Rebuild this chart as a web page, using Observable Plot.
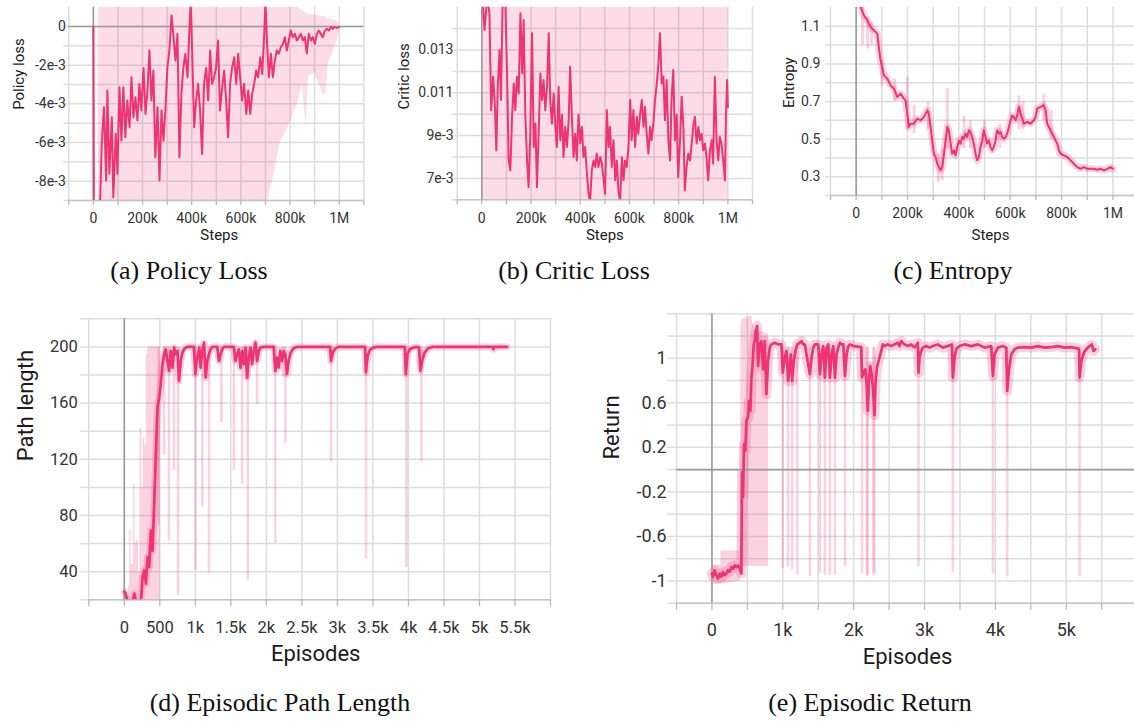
<!DOCTYPE html>
<html><head><meta charset="utf-8">
<script src="https://cdn.jsdelivr.net/npm/d3@7"></script>
<script src="https://cdn.jsdelivr.net/npm/@observablehq/plot@0.6"></script>
<style>
html,body{margin:0;padding:0;background:#fff;overflow:hidden;}
#root{position:relative;width:1134px;height:722px;overflow:hidden;background:#fff;}
.panel{position:absolute;}
.cap{position:absolute;width:400px;text-align:center;font-family:"Liberation Serif","Times New Roman",serif;font-size:26px;line-height:26px;color:#111;white-space:nowrap;}
</style></head><body><div id="root"></div>
<script>
// ---------- (a) Policy loss (steps in thousands, loss in 1e-3) ----------
const aStepsK = [0,2,7,20,27,34,43,52,57,65,75,81,91,98,106,114,122,130,138,147,155,163,171,179,187,195,204,212,220,228,236,244,252,261,269,277,285,293,301,309,318,326,334,342,350,358,366,374,383,391,396,402,410,418,426,434,442,450,459,467,475,483,491,499,507,515,524,532,540,548,556,564,573,581,589,597,605,613,622,630,638,646,654,662,670,679,687,695,700,706,714,722,730,738,746,754,763,771,779,787,795,803,811,820,828,836,844,852,860,868,876,885,893,901,909,917,925,933,942,950,958,966,974,982,990,1000];
const aLossMilli = [0,-9.5,-9.4,-9.3,-9.2,-6.07,-4.17,-7.97,-3.31,-7.62,-4.69,-8.83,-5.55,-7.62,-3.14,-5.9,-3.14,-5.72,-3.83,-5.21,-2.62,-4.69,-3.66,-4.86,-2.97,-4.34,-2.14,-4.52,-3.31,-1.24,-3.83,-2.28,-6.76,-4.17,-7.97,-4.34,-5.9,-4.34,-2.14,-1.24,0.57,-0.55,-1.76,-0.38,-6.76,-3.48,-2.14,-1.41,-2.62,-0.03,1.3,-1.41,-5.21,-3.83,-2.97,-4.34,-6.59,-2.97,-2.14,-3.83,-1.24,-2.97,-2.62,-2.14,-0.72,-4.34,-3.14,-2.28,-3.83,-5.72,-2.97,-2.14,-1.59,-2.97,-1.41,-2.62,-3.83,-2.97,-4.52,-3.31,-4.52,-3.48,-2.97,-2.28,-2.62,-1.59,-2.45,-0.38,1.3,-0.72,-2.62,-1.41,-2.62,-1.76,-1.24,-1.41,-1.07,-0.9,-0.55,-1.24,-0.72,-0.21,-0.55,-0.38,-0.72,-0.55,-0.38,-0.72,-0.55,-1.4,-0.38,-0.72,-0.55,-0.9,-0.38,-0.21,-0.38,-0.55,-0.21,-0.12,-0.21,-0.03,-0.12,-0.03,-0.07,-0.03];
const aBandStepsK = [20,700,735,760,800,830,850,865,875,900,935,945,955,990,1000];
const aBandLoMilli = [-9.5,-9.5,-7.6,-6.0,-5.0,-4.0,-3.0,-5.2,-2.6,-2.4,-3.5,-3.5,-2.0,-0.8,-0.3];
const aBandHiMilli = [1.5,1.5,1.5,1.5,1.5,1.0,0.8,0.7,0.6,0.6,0.5,0.5,0.4,0.3,0.1];

// ---------- (b) Critic loss ----------
const bStepsK = [0,11,22,31,38,46,54,59,65,72,78,85,95,103,109,116,123,130,136,143,150,157,164,170,177,184,190,197,204,211,218,224,231,238,245,251,258,265,272,278,285,292,299,305,312,319,326,332,339,346,353,359,366,373,380,386,393,400,407,413,420,427,434,440,447,454,461,467,474,481,488,494,501,508,515,521,528,535,542,549,555,562,569,576,582,589,596,603,609,616,623,630,636,643,650,657,663,670,677,684,690,697,704,711,717,724,731,738,744,751,758,765,771,778,785,792,798,805,812,819,825,832,839,846,853,859,866,873,880,886,893,900,907,913,920,927,934,940,947,954,961,967,974,981,988,992,997,1000];
const bLossMilli = [16,13.94,15.5,14.7,10.19,11.75,10.19,8.31,11.28,13.0,10.66,15.5,15.5,11.75,7.84,7.38,9.88,11.44,10.19,11.75,10.97,14.72,11.9,14.4,9.88,7.84,6.59,9.09,13.78,8.47,9.56,6.59,9.09,11.9,10.66,11.6,10.19,11.28,13.78,10.66,9.56,10.97,9.41,8.47,11.28,8.78,9.97,8.0,9.41,8.47,9.72,12.22,9.88,8.0,9.09,7.84,9.97,8.63,9.41,8.0,8.47,7.22,6.28,5.9,7.38,7.84,7.53,8.16,7.53,8.0,7.69,7.06,6.28,10.19,8.47,9.41,7.53,8.78,6.91,7.84,6.44,5.9,8.0,6.91,7.84,7.53,8.47,10.66,8.78,10.19,8.47,9.88,9.09,9.97,10.66,9.41,10.34,9.09,8.16,9.41,8.78,9.56,10.66,11.44,12.22,13.78,11.44,11.75,9.72,11.6,8.78,7.84,10.66,12.06,8.78,9.97,7.06,8.63,10.81,9.41,6.44,7.53,8.16,7.84,8.63,9.41,9.88,8.63,9.41,8.78,9.09,8.31,8.63,8.0,6.91,8.31,8.78,7.69,11.75,8.78,7.84,8.94,8.63,7.84,6.91,9.88,11.6,10.34];
const bBandStepsK = [3,1000];
const bBandLoMilli = [5.5,5.5];
const bBandHiMilli = [15.5,15.5];

// ---------- (c) Entropy ----------
const cStepsK = [6.5,17,30,43,56,69,82,88,95,101,108,121,134,147,160,173,186,192,199,205,212,225,238,251,264,277,283,290,296,303,309,316,322,329,335,342,348,355,361,368,374,381,387,394,400,406,413,419,426,432,439,445,452,458,465,471,478,484,491,497,504,510,517,523,530,536,543,549,556,562,569,575,582,588,595,601,608,614,621,627,634,640,647,653,666,679,692,699,705,718,731,738,744,757,770,783,790,796,809,822,835,848,861,874,887,900,913,926,939,952,965,978,991,1000];
const cEntropy = [1.25,1.203,1.159,1.132,1.096,1.079,1.061,0.99,0.919,0.884,0.839,0.822,0.786,0.768,0.724,0.742,0.715,0.706,0.635,0.564,0.582,0.582,0.609,0.6,0.618,0.653,0.635,0.564,0.493,0.422,0.405,0.369,0.351,0.334,0.351,0.422,0.493,0.564,0.547,0.476,0.422,0.44,0.413,0.458,0.493,0.476,0.511,0.502,0.529,0.511,0.547,0.538,0.511,0.476,0.422,0.387,0.405,0.458,0.493,0.547,0.511,0.476,0.493,0.458,0.44,0.458,0.493,0.547,0.529,0.538,0.511,0.502,0.511,0.529,0.564,0.6,0.626,0.618,0.6,0.626,0.671,0.635,0.609,0.582,0.591,0.582,0.6,0.618,0.662,0.671,0.68,0.653,0.582,0.547,0.511,0.476,0.44,0.422,0.413,0.405,0.387,0.369,0.351,0.342,0.351,0.342,0.342,0.342,0.337,0.342,0.334,0.342,0.351,0.342];
const cSpikeStepsK = [25,45,60,100,150,199,226,280,320,335,355,420,445,500,560,634,650,731,760];
const cSpikeLo = [1.0,0.98,1.0,0.78,0.7,0.55,0.53,0.55,0.27,0.28,0.45,0.45,0.45,0.45,0.45,0.55,0.55,0.6,0.5];
const cSpikeHi = [1.2,1.15,1.12,0.92,0.82,0.83,0.68,0.7,0.42,0.45,0.77,0.62,0.6,0.6,0.58,0.73,0.7,0.74,0.65];

// ---------- (d) Episodic path length ----------
const dEpisodes = [0,14,47,117,140,164,210,234,257,280,304,327,350,374,397,421,444,467,491,514,537,561,584,607,631,654,678,701,724,748,771,794,818,841,864,888,958,981,1000,1019,1037,1056,1075,1098,1122,1145,1168,1192,1215,1238,1308,1332,1355,1379,1402,1542,1565,1589,1612,1636,1659,1682,1706,1729,1752,1776,1799,1822,1846,1869,1893,1916,1963,2103,2126,2150,2173,2196,2220,2243,2266,2290,2313,2336,2360,2383,2430,2897,2911,2935,2967,3014,3388,3402,3425,3458,3505,3550,3949,3963,3986,4019,4065,4112,4150,4168,4192,4229,4276,4346,5187,5196,5210,5388];
const dLength = [25.6,25,19,19,24.4,19,19,19,36.2,41,31.5,50.4,43.3,69.3,55,88.3,123.8,156.9,164,173.5,187.7,194.8,198.3,190,183,197.2,185.3,199.5,194.8,197.2,175.9,190,196,198.3,199.5,200,200,200,180.6,190,194.8,199.5,185.3,197.2,203,178.2,190,194.8,198.3,200,200,190,194.8,198.3,200,200,190,194.8,198.3,185.3,197.2,187.7,199.5,178.2,192.4,199.5,187.7,197.2,203,190,197.2,199.5,200,200,183,192.4,185.3,197.2,190,197,194.8,180.6,190,194.8,197.6,199,200,200,190,196,198.8,200,200,181.8,193.6,197.9,199.5,200,200,180.6,194.8,198.3,199.5,200,199.5,183,190,196,199,200,200,198.3,200,200];
const dEarlyEp = [0,15,30,60,75,95,130,150,175,200,220,245,265,290,310,330,505];
const dEarlyLo = [20,20,20,20,20,20,20,20,20,20,20,20,20,20,20,20,20];
const dEarlyHi = [42,28,22,30,70,45,102,60,62,40,142,100,135,130,195,200,200];
const dSpikeEp = [481,561,628,700,757,1003,1098,1192,1365,1542,1659,1738,1869,2126,2233,2266,2911,3402,3972,4182];
const dSpikeLo = [73,123,62,112,23,41,86,39,146,112,102,34,159,60,178,131,118,49,43,118];
const dSpikeHi = [200,200,200,200,200,200,200,200,200,200,200,200,200,200,200,200,200,200,200,200];

// ---------- (e) Episodic return ----------
const eEpisodes = [0,14,38,61,85,108,132,156,179,203,226,250,274,297,321,344,368,392,415,425,439,453,472,486,509,524,542,557,571,590,604,618,637,651,675,698,722,745,769,792,816,840,887,934,981,1000,1028,1052,1075,1099,1113,1132,1156,1179,1203,1241,1264,1288,1311,1382,1406,1429,1453,1500,1524,1547,1571,1594,1618,1642,1665,1689,1712,1736,1759,1783,1807,1830,1854,1877,1901,1925,1948,1995,2106,2118,2140,2165,2185,2200,2215,2235,2255,2275,2294,2310,2330,2350,2388,2412,2435,2482,2529,2576,2624,2647,2671,2718,2765,2812,2859,2906,2915,2929,2953,2976,3024,3071,3118,3188,3259,3329,3386,3400,3424,3447,3494,3565,3659,3753,3847,3941,3965,3988,4035,4106,4153,4167,4190,4224,4271,4318,4412,4506,4600,4694,4788,4882,4976,5071,5141,5165,5180,5188,5212,5249,5282,5329,5362,5385,5409];
const eReturn = [-0.934,-0.964,-0.904,-0.949,-0.979,-0.934,-0.964,-0.919,-0.949,-0.934,-0.904,-0.919,-0.875,-0.89,-0.86,-0.875,-0.86,-0.89,-0.934,-0.024,-0.248,0.23,0.17,0.439,0.469,0.618,0.528,0.827,0.916,1.125,1.155,1.245,1.29,0.931,1.125,1.155,0.9,1.155,0.678,0.976,1.096,1.125,1.14,1.125,1.125,0.872,1.006,1.066,0.797,0.946,1.036,0.797,0.976,1.066,1.125,1.14,1.155,1.125,1.125,0.857,1.006,1.096,1.125,1.125,0.857,1.036,1.11,0.827,1.096,1.125,0.827,1.036,1.11,0.827,1.036,1.096,1.14,1.125,1.125,0.842,1.036,1.11,1.125,1.11,1.1,0.83,0.87,0.9,0.75,0.53,0.8,0.93,0.85,0.7,0.49,0.8,0.92,0.97,1.066,1.125,1.11,1.125,1.11,1.125,1.14,1.11,1.155,1.125,1.11,1.125,1.096,1.14,0.872,1.006,1.066,1.096,1.11,1.096,1.11,1.125,1.096,1.11,1.125,0.827,1.006,1.081,1.11,1.125,1.11,1.125,1.096,1.11,0.842,1.036,1.096,1.11,1.096,0.707,0.887,1.036,1.081,1.096,1.101,1.096,1.11,1.096,1.101,1.11,1.096,1.101,1.09,1.09,1.08,0.827,0.976,1.051,1.081,1.11,1.125,1.066,1.081];
const eBandEp = [0,125,130,400,410,430,560,600,800];
const eBandLo = [-1.03,-1.03,-1.03,-1.0,-0.9,-0.87,-0.87,-0.87,-0.87];
const eBandHi = [-0.86,-0.86,-0.73,-0.73,1.3,1.35,1.38,1.25,1.22];
const eSpikeEp = [1000,1075,1132,1205,1382,1524,1594,1665,1736,1877,2118,2185,2200,2275,2294,2915,3400,3965,4167,5188];
const eSpikeLo = [-0.89,-0.875,-0.9,-0.95,-0.964,-0.93,-0.95,-0.95,-0.95,-0.875,-0.93,-0.96,-0.95,-0.93,-0.95,-0.875,-0.92,-0.934,-0.964,-0.964];
const eSpikeHi = [1.1,1.1,1.1,1.1,1.1,1.1,1.1,1.1,1.1,1.1,1.1,1.1,1.1,1.1,1.1,1.1,1.1,1.1,1.1,1.1];

// ---------- ticks ----------
const stepGrid = [-100000,0,100000,200000,300000,400000,500000,600000,700000,800000,900000,1000000,1100000];
const stepGridC = [-100000,0,100000,200000,300000,400000,500000,600000,700000,800000,900000,1000000];
const stepLabels = [0,200000,400000,600000,800000,1000000];
const aYGrid = [-9e-3,-8e-3,-7e-3,-6e-3,-5e-3,-4e-3,-3e-3,-2e-3,-1e-3,0];
const aYLabels = [-8e-3,-6e-3,-4e-3,-2e-3,0];
const bYGrid = [6e-3,7e-3,8e-3,9e-3,10e-3,11e-3,12e-3,13e-3,14e-3];
const bYLabels = [7e-3,9e-3,11e-3,13e-3];
const cYGrid = [0.2,0.3,0.4,0.5,0.6,0.7,0.8,0.9,1.0,1.1];
const cYLabels = [0.3,0.5,0.7,0.9,1.1];
const dXGrid = [-500,0,500,1000,1500,2000,2500,3000,3500,4000,4500,5000,5500,6000];
const dXLabels = [0,500,1000,1500,2000,2500,3000,3500,4000,4500,5000,5500];
const dYGrid = [20,40,60,80,100,120,140,160,180,200,220];
const dYLabels = [40,80,120,160,200];
const eXGrid = [-500,0,500,1000,1500,2000,2500,3000,3500,4000,4500,5000,5500];
const eXLabels = [0,1000,2000,3000,4000,5000];
const eYGrid = [-1.2,-1.0,-0.8,-0.6,-0.4,-0.2,0,0.2,0.4,0.6,0.8,1.0,1.2,1.4];
const eYLabels = [-1,-0.6,-0.2,0.2,0.6,1];

// ---------- helpers ----------
const LINE = "#ee3471";
const GRID = "#dddddd";
const ZERO = "#9c9c9c";
const PALE = 0.22;
function pts(xs, ys, kx = 1, ky = 1) {
  const n = Math.min(xs.length, ys.length), out = [];
  for (let i = 0; i < n; i++) out.push({x: xs[i] * kx, y: ys[i] * ky});
  return out;
}
function rng(xs, lo, hi, kx = 1, ky = 1) {
  const n = Math.min(xs.length, lo.length, hi.length), out = [];
  for (let i = 0; i < n; i++) out.push({x: xs[i] * kx, lo: lo[i] * ky, hi: hi[i] * ky});
  return out;
}
const fmtSteps = v => v === 0 ? "0" : v >= 1e6 ? (v / 1e6) + "M" : (v / 1e3) + "k";
const fmtMilli = v => v === 0 ? "0" : Math.round(v * 1e3) + "e-3";
const fmtB = v => v < 0.0095 ? Math.round(v * 1e3) + "e-3" : v.toFixed(3);
const fmtC = v => v.toFixed(1);
const fmtEp = v => v === 0 ? "0" : v < 1000 ? String(v) : (v / 1000) + "k";
const fmtE = v => String(Math.round(v * 10) / 10);

const root = document.getElementById("root");
function panel(o) {
  const marks = [
    Plot.gridX(o.xGrid, {stroke: GRID, strokeOpacity: 1, strokeWidth: 1.5}),
    Plot.gridY(o.yGrid, {stroke: GRID, strokeOpacity: 1, strokeWidth: 1.5}),
    Plot.axisY(o.yGrid, {tickSize: o.yTick, tickFormat: () => "", stroke: GRID, strokeWidth: 1.5, label: null}),
    Plot.ruleY([o.y[0]], {stroke: "#c4c4c4", strokeWidth: 1.5}),
    Plot.axisX(o.xGrid, {tickSize: o.xTick, tickFormat: () => "", stroke: "#b9b9b9", strokeWidth: 1.3, label: null}),
    ...o.raw,
    ...(o.zeroX ? [Plot.ruleX([0], {stroke: ZERO, strokeWidth: 1.6})] : []),
    ...(o.zeroY ? [Plot.ruleY([0], {stroke: ZERO, strokeWidth: 1.6})] : []),
    ...o.lines,
    Plot.axisX(o.xLabels, {tickSize: 0, tickPadding: o.xPad, tickFormat: o.xFmt, fontSize: o.fs, label: null}),
    Plot.axisY(o.yLabels, {tickSize: 0, tickPadding: o.yPad, tickFormat: o.yFmt, fontSize: o.fs, label: null}),
    Plot.text([o.xTitle], {text: d => d, frameAnchor: "bottom", dx: o.xtdx, dy: o.xtdy, fontSize: o.tfs, fill: "#1b1b1b"}),
    Plot.text([o.yTitle], {text: d => d, frameAnchor: "left", dx: o.ytdx, dy: o.ytdy, rotate: -90, fontSize: o.tfs, fill: "#1b1b1b"})
  ];
  const svg = Plot.plot({
    width: o.width, height: o.height,
    marginTop: o.m[0], marginRight: o.m[1], marginBottom: o.m[2], marginLeft: o.m[3],
    x: {domain: o.x}, y: {domain: o.y},
    style: {fontFamily: "Roboto, sans-serif", color: "#333", background: "transparent", overflow: "visible"},
    marks
  });
  svg.classList.add("panel");
  svg.style.left = o.left + "px";
  svg.style.top = o.top + "px";
  root.appendChild(svg);
}
function caption(text, cx, baseline) {
  const d = document.createElement("div");
  d.className = "cap";
  d.textContent = text;
  d.style.left = (cx - 200) + "px";
  d.style.top = (baseline - 21.8) + "px";
  root.appendChild(d);
}

// (a)
panel({
  left: 0, top: 0, width: 370, height: 250, m: [6.7, 6.7, 50, 68.3],
  x: [-100000, 1100000], y: [-9e-3, 1e-3],
  xGrid: stepGrid, yGrid: aYGrid, xLabels: stepLabels, yLabels: aYLabels,
  xFmt: fmtSteps, yFmt: fmtMilli, xTick: 5, yTick: 5, xPad: 13, yPad: 3, fs: 14,
  xTitle: "Steps", xtdx: 3, xtdy: 39, yTitle: "Policy loss", ytdx: -50, ytdy: 6, tfs: 15,
  zeroX: true, zeroY: true,
  raw: [Plot.areaY(rng(aBandStepsK, aBandLoMilli, aBandHiMilli, 1000, 1e-3), {x: "x", y1: "lo", y2: "hi", fill: LINE, fillOpacity: 0.17, clip: true})],
  lines: [Plot.line(pts(aStepsK, aLossMilli, 1000, 1e-3), {x: "x", y: "y", stroke: LINE, strokeWidth: 2, clip: true})]
});
// (b)
panel({
  left: 380, top: 0, width: 380, height: 250, m: [6.7, 8, 50.7, 76.7],
  x: [-100000, 1100000], y: [6e-3, 15e-3],
  xGrid: stepGrid, yGrid: bYGrid, xLabels: stepLabels, yLabels: bYLabels,
  xFmt: fmtSteps, yFmt: fmtB, xTick: 5, yTick: 5, xPad: 13.5, yPad: 3.7, fs: 14,
  xTitle: "Steps", xtdx: 0, xtdy: 40, yTitle: "Critic loss", ytdx: -53.4, ytdy: 6, tfs: 15,
  zeroX: true, zeroY: false,
  raw: [Plot.areaY(rng(bBandStepsK, bBandLoMilli, bBandHiMilli, 1000, 1e-3), {x: "x", y1: "lo", y2: "hi", fill: LINE, fillOpacity: 0.17, clip: true})],
  lines: [Plot.line(pts(bStepsK, bLossMilli, 1000, 1e-3), {x: "x", y: "y", stroke: LINE, strokeWidth: 2, clip: true})]
});
// (c)
panel({
  left: 770, top: 0, width: 364, height: 250, m: [7, 0, 55, 60],
  x: [-100000, 1084000], y: [0.2, 1.2],
  xGrid: stepGridC, yGrid: cYGrid, xLabels: stepLabels, yLabels: cYLabels,
  xFmt: fmtSteps, yFmt: fmtC, xTick: 5, yTick: 5, xPad: 13, yPad: 10, fs: 14,
  xTitle: "Steps", xtdx: 8, xtdy: 44, yTitle: "Entropy", ytdx: -41.2, ytdy: 6.5, tfs: 15,
  zeroX: true, zeroY: false,
  raw: [
    Plot.ruleX(rng(cSpikeStepsK, cSpikeLo, cSpikeHi, 1000), {x: "x", y1: "lo", y2: "hi", stroke: LINE, strokeOpacity: PALE, strokeWidth: 3, clip: true}),
    Plot.line(pts(cStepsK, cEntropy, 1000), {x: "x", y: "y", stroke: LINE, strokeOpacity: PALE, strokeWidth: 7, clip: true})
  ],
  lines: [Plot.line(pts(cStepsK, cEntropy, 1000), {x: "x", y: "y", stroke: LINE, strokeWidth: 2, clip: true})]
});
// (d)
panel({
  left: 0, top: 310, width: 560, height: 360, m: [8.3, 10, 70.7, 88.3],
  x: [-500, 6000], y: [20, 220],
  xGrid: dXGrid, yGrid: dYGrid, xLabels: dXLabels, yLabels: dYLabels,
  xFmt: fmtEp, yFmt: String, xTick: 7, yTick: 8, xPad: 21, yPad: 11, fs: 16.5,
  xTitle: "Episodes", xtdx: -4, xtdy: 61, yTitle: "Path length", ytdx: -63, ytdy: 2, tfs: 22,
  zeroX: true, zeroY: false,
  raw: [
    Plot.areaY(rng(dEarlyEp, dEarlyLo, dEarlyHi), {x: "x", y1: "lo", y2: "hi", curve: "step-after", fill: LINE, fillOpacity: PALE, clip: true}),
    Plot.ruleX(rng(dSpikeEp, dSpikeLo, dSpikeHi), {x: "x", y1: "lo", y2: "hi", stroke: LINE, strokeOpacity: PALE, strokeWidth: 2.5, clip: true}),
    Plot.line(pts(dEpisodes, dLength), {x: "x", y: "y", stroke: LINE, strokeOpacity: PALE, strokeWidth: 7, clip: true})
  ],
  lines: [Plot.line(pts(dEpisodes, dLength), {x: "x", y: "y", stroke: LINE, strokeWidth: 2.7, clip: true})]
});
// (e)
panel({
  left: 580, top: 310, width: 554, height: 360, m: [3.3, 0, 67.3, 96],
  x: [-500, 5963], y: [-1.2, 1.4],
  xGrid: eXGrid, yGrid: eYGrid, xLabels: eXLabels, yLabels: eYLabels,
  xFmt: fmtEp, yFmt: fmtE, xTick: 7, yTick: 9, xPad: 20.5, yPad: 10, fs: 18,
  xTitle: "Episodes", xtdx: 2, xtdy: 61, yTitle: "Return", ytdx: -64.3, ytdy: 1, tfs: 22,
  zeroX: true, zeroY: true,
  raw: [
    Plot.areaY(rng(eBandEp, eBandLo, eBandHi), {x: "x", y1: "lo", y2: "hi", fill: LINE, fillOpacity: PALE, clip: true}),
    Plot.ruleX(rng(eSpikeEp, eSpikeLo, eSpikeHi), {x: "x", y1: "lo", y2: "hi", stroke: LINE, strokeOpacity: PALE, strokeWidth: 2.5, clip: true}),
    Plot.line(pts(eEpisodes, eReturn), {x: "x", y: "y", stroke: LINE, strokeOpacity: PALE, strokeWidth: 10, clip: true})
  ],
  lines: [Plot.line(pts(eEpisodes, eReturn), {x: "x", y: "y", stroke: LINE, strokeWidth: 2.7, clip: true})]
});

caption("(a) Policy Loss", 189, 280);
caption("(b) Critic Loss", 574, 280);
caption("(c) Entropy", 953, 280);
caption("(d) Episodic Path Length", 280, 712);
caption("(e) Episodic Return", 870, 712);
</script></body></html>
